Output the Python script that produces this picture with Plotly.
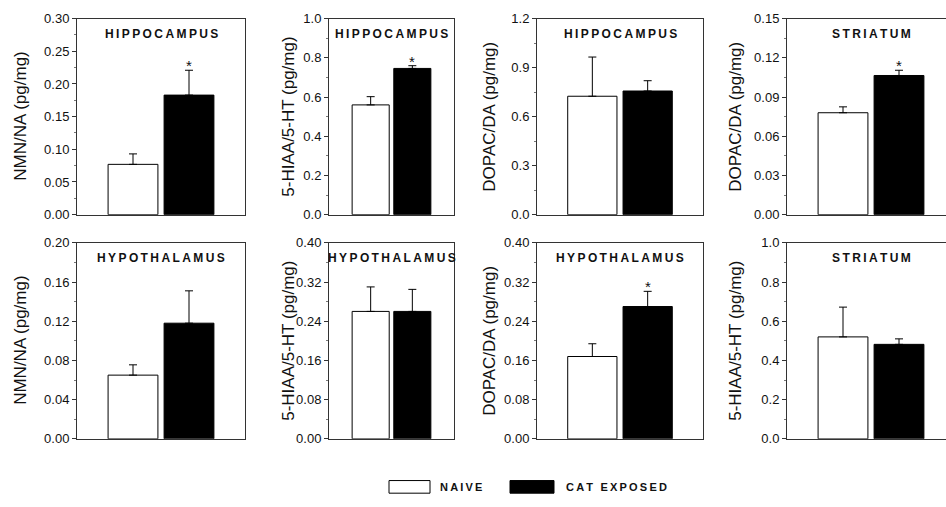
import plotly.graph_objects as go

# ---------------- data ----------------
SERIES = ["NAIVE", "CAT EXPOSED"]
REGIONS = ["HIPPOCAMPUS", "HIPPOCAMPUS", "HIPPOCAMPUS", "STRIATUM",
           "HYPOTHALAMUS", "HYPOTHALAMUS", "HYPOTHALAMUS", "STRIATUM"]
Y_LABELS = ["NMN/NA (pg/mg)", "5-HIAA/5-HT (pg/mg)", "DOPAC/DA (pg/mg)", "DOPAC/DA (pg/mg)",
            "NMN/NA (pg/mg)", "5-HIAA/5-HT (pg/mg)", "DOPAC/DA (pg/mg)", "5-HIAA/5-HT (pg/mg)"]
NAIVE_MEAN = [0.077, 0.560, 0.725, 0.0780, 0.065, 0.260, 0.168, 0.520]
NAIVE_SEM = [0.016, 0.042, 0.240, 0.0045, 0.0105, 0.050, 0.026, 0.152]
CAT_MEAN = [0.183, 0.746, 0.757, 0.1065, 0.118, 0.260, 0.270, 0.482]
CAT_SEM = [0.038, 0.014, 0.063, 0.0040, 0.033, 0.045, 0.031, 0.028]
SIGNIFICANT = [True, True, False, True, False, False, True, False]
Y_MAX = [0.30, 1.0, 1.2, 0.15, 0.20, 0.40, 0.40, 1.0]
Y_DTICK = [0.05, 0.2, 0.3, 0.03, 0.04, 0.08, 0.08, 0.2]
TICK_FMT = [".2f", ".1f", ".1f", ".2f", ".2f", ".2f", ".2f", ".1f"]

# ---------------- layout geometry (pixels) ----------------
W, H = 946, 507
COLS = [(77, 245), (329, 454), (537, 703), (787, 955)]
YTITLE_X = [21, 289, 490, 736]
ROWS = [(12, 214), (243, 445)]
FONT = "Liberation Sans, Arial, Helvetica, sans-serif"
LINE = "#333333"


def spaced(s):
    return "\u2009".join(list(s))


fig = go.Figure()
annotations = []
layout = {}

for i in range(8):
    r, c = divmod(i, 4)
    n = i + 1
    sfx = "" if n == 1 else str(n)
    l, rr = COLS[c]
    right = min(rr, W)
    top, bot = ROWS[r]
    xhi = -1 + 3 * (right - l) / (rr - l)

    fig.add_trace(go.Bar(
        x=SERIES, y=[NAIVE_MEAN[i], CAT_MEAN[i]], width=0.89,
        marker=dict(color=["white", "black"], line=dict(color="black", width=1)),
        error_y=dict(type="data", symmetric=False,
                     array=[NAIVE_SEM[i], CAT_SEM[i]], arrayminus=[0, 0],
                     color="black", thickness=1, width=4),
        xaxis="x" + sfx, yaxis="y" + sfx, showlegend=False, hoverinfo="skip"))

    layout["xaxis" + sfx] = dict(
        domain=[l / W, right / W], range=[-1, xhi], type="category",
        showticklabels=False, ticks="", showgrid=False, zeroline=False,
        showline=True, linecolor=LINE, linewidth=1, mirror=True,
        anchor="y" + sfx, fixedrange=True)
    layout["yaxis" + sfx] = dict(
        domain=[1 - bot / H, 1 - top / H], range=[0, Y_MAX[i]],
        dtick=Y_DTICK[i], tick0=0, tickformat=TICK_FMT[i],
        ticks="outside", ticklen=4, tickcolor=LINE, tickwidth=1,
        minor=dict(ticks="outside", ticklen=2, tickcolor="#777777", dtick=Y_DTICK[i] / 2),
        showgrid=False, zeroline=False,
        showline=True, linecolor=LINE, linewidth=1, mirror=(c != 3),
        tickfont=dict(family=FONT, size=13, color="#111111"),
        anchor="x" + sfx, fixedrange=True)

    # y-axis title placed as rotated annotation
    annotations.append(dict(
        x=YTITLE_X[c] / W, xref="paper", y=1 - (top + bot) / 2 / H, yref="paper",
        text=Y_LABELS[i], textangle=-90, showarrow=False,
        xanchor="center", yanchor="middle",
        font=dict(family=FONT, size=17, color="#111111")))

    annotations.append(dict(
        x=0.5, xref="x" + sfx, y=1, yref=f"y{sfx} domain",
        text="<b>" + spaced(REGIONS[i]) + "</b>", showarrow=False,
        yanchor="middle", yshift=-15,
        font=dict(family=FONT, size=12, color="#111111")))

    if SIGNIFICANT[i]:
        annotations.append(dict(
            x=SERIES[1], xref="x" + sfx, y=CAT_MEAN[i] + CAT_SEM[i], yref="y" + sfx,
            text="*", showarrow=False, yanchor="bottom", yshift=-6,
            font=dict(family=FONT, size=15, color="#111111")))

# ---------------- manual legend ----------------
shapes = []
legend_items = [(389, 430, "white", 438), (510, 554, "black", 564)]
for (x0, x1, col, tx), name in zip(legend_items, SERIES):
    shapes.append(dict(type="rect", xref="paper", yref="paper",
                       x0=x0 / W, x1=x1 / W, y0=1 - 501 / H, y1=1 - 488 / H,
                       fillcolor=col, line=dict(color="black", width=1)))
    annotations.append(dict(x=tx / W, xref="paper", y=1 - 494.5 / H, yref="paper",
                            text="<b>" + spaced(name) + "</b>", showarrow=False,
                            xanchor="left", yanchor="middle",
                            font=dict(family=FONT, size=11, color="#111111")))

fig.update_layout(
    width=W, height=H, margin=dict(l=0, r=0, t=0, b=0),
    paper_bgcolor="white", plot_bgcolor="white",
    annotations=annotations, shapes=shapes, showlegend=False,
    font=dict(family=FONT), **layout)

fig.write_html("out.html", config={"displayModeBar": False},
               post_script="document.body.style.margin='0';document.body.style.overflow='hidden';")
